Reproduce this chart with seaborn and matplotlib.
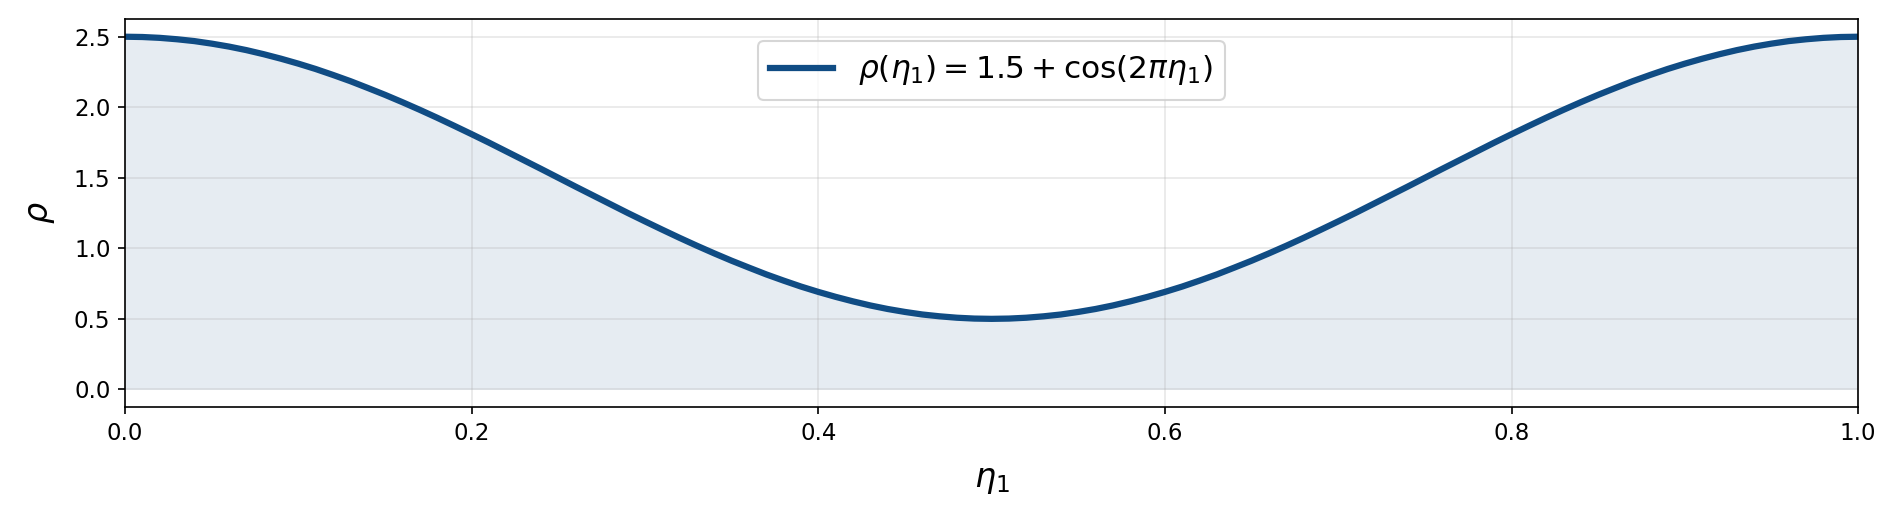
import numpy as np
import pandas as pd
import matplotlib
matplotlib.use("Agg")
import matplotlib.pyplot as plt
import seaborn as sns

# values, eta1 in steps of 0.01 (curve is symmetric about 0.5)
eta1 = [round(0.01 * i, 2) for i in range(101)]
rho_half = [2.500, 2.498, 2.492, 2.482, 2.469, 2.451, 2.430, 2.405, 2.376, 2.344,
            2.309, 2.271, 2.229, 2.185, 2.137, 2.088, 2.036, 1.982, 1.926, 1.868,
            1.809, 1.749, 1.687, 1.625, 1.563, 1.500, 1.437, 1.375, 1.313, 1.251,
            1.191, 1.132, 1.074, 1.018, 0.964, 0.912, 0.863, 0.815, 0.771, 0.729,
            0.691, 0.656, 0.624, 0.595, 0.570, 0.549, 0.531, 0.518, 0.508, 0.502,
            0.500]
rho = rho_half + rho_half[-2::-1]

line_color = '#104c84'
label = r'$\rho(\eta_1) = 1.5 + \cos(2\pi\eta_1)$'

df = pd.DataFrame({'eta1': eta1, 'rho': rho})

plt.rcParams['font.family'] = ['DejaVu Sans']

fig, ax = plt.subplots(figsize=(1898 / 150, 516 / 150), dpi=150)
fig.subplots_adjust(left=0.0659, right=0.979, top=0.963, bottom=0.2112)

ax.fill_between(df.eta1, 0, df.rho, color=line_color, alpha=0.1, linewidth=0)
sns.lineplot(data=df, x='eta1', y='rho', ax=ax, color=line_color, linewidth=3, label=label)

ax.set_xlim(0, 1)
ax.set_xlabel(r'$\eta_1$', fontsize=16, labelpad=9)
ax.set_ylabel(r'$\rho$', fontsize=16, labelpad=8)
ax.tick_params(labelsize=11)
ax.grid(True, alpha=0.3)
ax.legend(loc='upper center', fontsize=15, borderaxespad=0.7)

fig.savefig('out.png', dpi=150)
